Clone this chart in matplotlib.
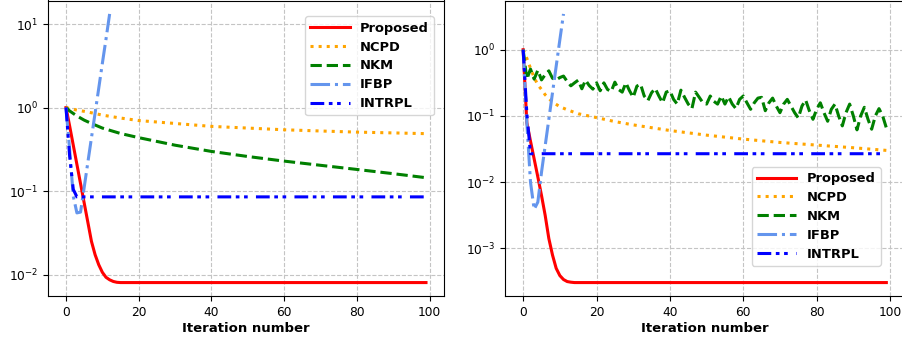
import matplotlib
matplotlib.use("Agg")
import matplotlib.pyplot as plt
from matplotlib.ticker import NullLocator

# ---------------- data: left panel ----------------
labels = ["Proposed", "NCPD", "NKM", "IFBP", "INTRPL"]

l_prop_it = [0, 1, 2, 3, 4, 5, 6, 7, 8, 9, 10, 11, 12, 13, 14, 15, 99]
l_prop = [1.0, 0.603, 0.355, 0.209, 0.123, 0.0724, 0.0427, 0.0251, 0.0174,
          0.0132, 0.0107, 0.00933, 0.00871, 0.00832, 0.00813, 0.00807, 0.00807]

l_ncpd_it = [0, 1, 2, 3, 5, 7, 10, 15, 20, 30, 40, 50, 60, 70, 80, 90, 99]
l_ncpd = [1.0, 0.977, 0.955, 0.933, 0.902, 0.867, 0.813, 0.750, 0.700, 0.646,
          0.596, 0.569, 0.543, 0.525, 0.509, 0.498, 0.488]

l_nkm_it = [0, 1, 2, 3, 5, 7, 10, 15, 20, 30, 40, 50, 60, 70, 80, 90, 99]
l_nkm = [1.0, 0.912, 0.851, 0.794, 0.708, 0.646, 0.569, 0.490, 0.437, 0.355,
         0.299, 0.260, 0.229, 0.204, 0.182, 0.162, 0.145]

l_ifbp_it = [0, 1, 2, 3, 4, 5, 6, 7, 8, 9, 10, 11, 12]
l_ifbp = [1.0, 0.316, 0.0871, 0.055, 0.0562, 0.111, 0.220, 0.435, 0.859,
          1.70, 3.39, 6.61, 13.2]

l_intr_it = [0, 1, 2, 3, 99]
l_intr = [1.0, 0.263, 0.105, 0.0855, 0.0855]

# ---------------- data: right panel ----------------
r_prop_it = [0, 1, 2, 3, 4, 5, 6, 7, 8, 9, 10, 11, 12, 13, 14, 99]
r_prop = [1.0, 0.0794, 0.0417, 0.0224, 0.0120, 0.00631, 0.00316, 0.00141,
          0.000794, 0.000501, 0.000389, 0.000339, 0.000316, 0.000309,
          0.000305, 0.000305]

r_ncpd_it = [0, 1, 2, 3, 4, 5, 6, 8, 10, 12, 15, 20, 25, 30, 40, 50, 60, 70,
             80, 90, 99]
r_ncpd = [1.0, 0.741, 0.525, 0.380, 0.295, 0.251, 0.209, 0.162, 0.138, 0.124,
          0.108, 0.0944, 0.0822, 0.0733, 0.0603, 0.0513, 0.0447, 0.0398,
          0.0363, 0.0331, 0.0302]

r_nkm_it = list(range(100))
r_nkm = [1.0, 0.360, 0.510, 0.360, 0.490, 0.350, 0.420, 0.480, 0.370, 0.350,
         0.380, 0.400, 0.331, 0.285, 0.316, 0.347, 0.257, 0.347, 0.288, 0.254,
         0.316, 0.240, 0.316, 0.251, 0.234, 0.324, 0.251, 0.229, 0.316, 0.240,
         0.191, 0.282, 0.302, 0.200, 0.170, 0.224, 0.260, 0.200, 0.158, 0.229,
         0.240, 0.178, 0.151, 0.245, 0.191, 0.151, 0.129, 0.229, 0.191, 0.158,
         0.151, 0.200, 0.166, 0.151, 0.200, 0.151, 0.195, 0.151, 0.129, 0.178,
         0.200, 0.158, 0.126, 0.158, 0.186, 0.191, 0.120, 0.158, 0.186, 0.141,
         0.112, 0.151, 0.178, 0.141, 0.112, 0.0933, 0.141, 0.174, 0.120, 0.0891,
         0.126, 0.158, 0.112, 0.0832, 0.126, 0.151, 0.100, 0.0708, 0.112, 0.151,
         0.100, 0.0617, 0.100, 0.135, 0.0891, 0.0631, 0.100, 0.129, 0.100, 0.0661]

r_ifbp_it = [0, 1, 2, 3, 4, 5, 6, 7, 8, 9, 10, 11]
r_ifbp = [1.0, 0.0794, 0.01, 0.00389, 0.00501, 0.0141, 0.0355, 0.0891, 0.224,
          0.562, 1.41, 3.47]

r_intr_it = [0, 1, 2, 99]
r_intr = [1.0, 0.11, 0.0269, 0.0269]

xticks = [0, 20, 40, 60, 80, 100]

# ---------------- styles ----------------
LW = 2.2
styles = [
    dict(color="red", linestyle="-"),
    dict(color="orange", linestyle=":"),
    dict(color="green", linestyle="--"),
    dict(color="cornflowerblue", linestyle="-."),
    dict(color="blue", linestyle=(0, (4.5, 1.5, 1.2, 1.5, 1.2, 2.7))),
]

fig = plt.figure(figsize=(9.02, 3.43), dpi=100)
ax1 = fig.add_axes([48 / 902, 47 / 343, 396 / 902, 295.5 / 343])
ax2 = fig.add_axes([505 / 902, 47 / 343, 399.5 / 902, 295.5 / 343])

left = [(l_prop_it, l_prop), (l_ncpd_it, l_ncpd), (l_nkm_it, l_nkm),
        (l_ifbp_it, l_ifbp), (l_intr_it, l_intr)]
right = [(r_prop_it, r_prop), (r_ncpd_it, r_ncpd), (r_nkm_it, r_nkm),
         (r_ifbp_it, r_ifbp), (r_intr_it, r_intr)]

for ax, series in ((ax1, left), (ax2, right)):
    for (it, vals), lab, st in zip(series, labels, styles):
        ax.plot(it, vals, label=lab, linewidth=LW, **st)
    ax.set_yscale("log")
    ax.set_xlim(-4.95, 103.95)
    ax.set_xticks(xticks)
    ax.yaxis.set_minor_locator(NullLocator())
    ax.grid(True, which="major", linestyle="--", color="#c4c4c4", linewidth=0.8)
    ax.tick_params(labelsize=8.8)
    ax.set_xlabel("Iteration number", fontsize=9.5, fontweight="bold", labelpad=2)

leg_kw = dict(prop={"weight": "bold", "size": 9.4}, handlelength=3.0,
              borderaxespad=0, labelspacing=0.45)
ax1.legend(loc="upper right", bbox_to_anchor=(0.975, 0.946), **leg_kw)
ax2.legend(loc="lower right", bbox_to_anchor=(0.94, 0.102), **leg_kw)

fig.savefig("out.png", dpi=100)
